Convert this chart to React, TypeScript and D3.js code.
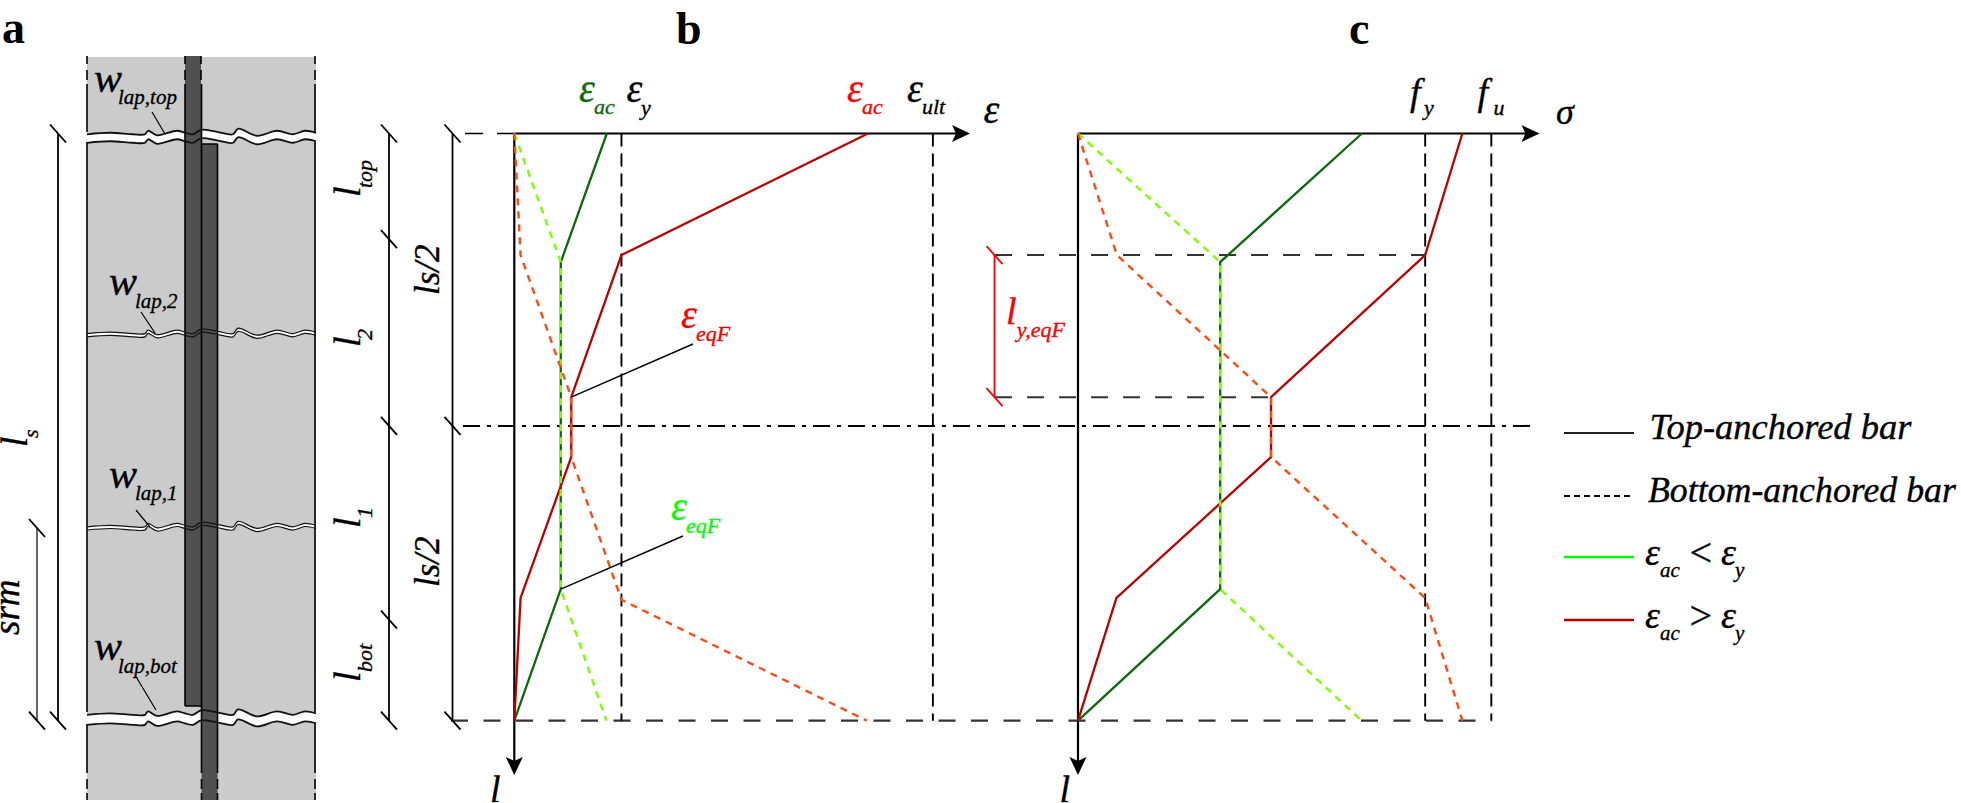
import * as d3 from "d3";

const W = 1961;
const H = 803;
const FONT = "'Liberation Serif', 'Times New Roman', serif";

const DARK_GREEN = "#0c6a0c";
const LIGHT_GREEN = "#7fff00";
const DARK_RED = "#bb0000";
const ORANGE = "#ff4a12";
const RED = "#ff0000";
const GREEN = "#00ff00";

// positions along the member, % of ls
const L_YIELD = 20.7;
const L_KINK = 21.9;
const L_EQF_TOP = 44.9;
const L_MID = 49.8;
const L_EQF_BOT = 55.1;
const L_KINK_BOT = 77.6;
const L_YIELD_BOT = 79.1;

// strain panel (b), % of eps_ult
const EPS_Y = 25.6;
const strainTop = [
  { x: 22.1, l: 0 },
  { x: 11.1, l: L_KINK },
  { x: 11.1, l: L_KINK_BOT },
  { x: 0, l: 100 },
];
const strainBottom = [
  { x: 0, l: 0 },
  { x: 11.1, l: L_KINK },
  { x: 11.1, l: L_KINK_BOT },
  { x: 22, l: 100 },
];
const strainTopRed = [
  { x: 84.5, l: 0 },
  { x: EPS_Y, l: L_YIELD },
  { x: 13.6, l: L_EQF_TOP },
  { x: 13.6, l: L_EQF_BOT },
  { x: 1.5, l: L_YIELD_BOT },
  { x: 0, l: 100 },
];
const strainBottomRed = [
  { x: 0, l: 0 },
  { x: 1.5, l: L_YIELD },
  { x: 13.6, l: L_EQF_TOP },
  { x: 13.6, l: L_EQF_BOT },
  { x: EPS_Y, l: L_YIELD_BOT + 0.3 },
  { x: 84.2, l: 100 },
];

// stress panel (c), % of fu
const F_Y = 84;
const stressTop = [
  { x: 68.7, l: 0 },
  { x: 34.4, l: L_KINK },
  { x: 34.4, l: L_KINK_BOT },
  { x: 0, l: 100 },
];
const stressBottom = [
  { x: 0, l: 0 },
  { x: 34.4, l: L_KINK },
  { x: 34.4, l: L_KINK_BOT },
  { x: 68.6, l: 100 },
];
const stressTopRed = [
  { x: 93, l: 0 },
  { x: F_Y, l: L_YIELD },
  { x: 46.7, l: L_EQF_TOP },
  { x: 46.7, l: L_EQF_BOT },
  { x: 9.3, l: L_YIELD_BOT },
  { x: 0, l: 100 },
];
const stressBottomRed = [
  { x: 0, l: 0 },
  { x: 9.4, l: L_YIELD },
  { x: 46.7, l: L_EQF_TOP },
  { x: 46.7, l: L_EQF_BOT },
  { x: F_Y, l: L_YIELD_BOT },
  { x: 93, l: 100 },
];

// crack outline of panel a: position across the tie and wobble
const crackX = [87, 110, 133, 145, 148, 157, 177, 185, 193, 201, 217, 233, 238, 257, 277, 293, 305, 316];
const crackWobble = [1.5, 0, 1.5, 1.5, -2, 2.5, -2, 0, 1.5, -3, -1, 1.5, -4, 3, -2, 1.5, -2, 0];

const cracks = [
  { l: 0.6, gap: 8.5, w: 1.8 },
  { l: 34.1, gap: 3.2, w: 1.2 },
  { l: 67, gap: 3.2, w: 1.2 },
  { l: 99.6, gap: 10, w: 1.8 },
];

const lScale = d3.scaleLinear().domain([0, 100]).range([133.5, 720.7]);
const strainX = d3.scaleLinear().domain([0, 100]).range([514.3, 932.9]);
const stressX = d3.scaleLinear().domain([0, 100]).range([1078, 1491.3]);
const crackLine = d3.line<number>().curve(d3.curveCatmullRom);

const pathFor = (scale: d3.ScaleLinear<number, number>, pts: { x: number; l: number }[]) =>
  d3
    .line<{ x: number; l: number }>()
    .x((d) => scale(d.x))
    .y((d) => lScale(d.l))(pts) as string;

const Tick = ({ x, y, stroke = "#000", w = 1.8 }: any) => (
  <line x1={x - 8} y1={y - 9} x2={x + 8} y2={y + 9} stroke={stroke} strokeWidth={w} />
);

const Seg = ({ x1, y1, x2, y2, stroke = "#000", w = 1.5, dash }: any) => (
  <line x1={x1} y1={y1} x2={x2} y2={y2} stroke={stroke} strokeWidth={w} strokeDasharray={dash} />
);

// notched arrow head pointing right (dir 0) or down (dir 90)
const Arrow = ({ x, y, dir }: any) => (
  <path d="M0,0 L-18,-8.5 L-14,0 L-18,8.5 Z" transform={`translate(${x},${y}) rotate(${dir})`} fill="#000" />
);

const Lab = ({ x, y, size = 36, fill = "#000", rot, bold, children }: any) => (
  <text
    x={x}
    y={y}
    fontFamily={FONT}
    fontSize={size}
    fontStyle={bold ? "normal" : "italic"}
    fontWeight={bold ? "bold" : "normal"}
    fill={fill}
    stroke={bold ? "none" : fill}
    strokeWidth={0.35}
    transform={rot ? `rotate(-90 ${x} ${y})` : undefined}
  >
    {children}
  </text>
);

const Sub = ({ x, y, sx, sy, main, sub, fill = "#000", size = 40, subSize = 22 }: any) => (
  <g>
    <Lab x={x} y={y} fill={fill} size={size}>{main}</Lab>
    <Lab x={sx} y={sy} fill={fill} size={subSize}>{sub}</Lab>
  </g>
);

const RotSub = ({ y, sy, sub }: any) => (
  <g>
    <Lab x={360} y={y} size={38} rot>l</Lab>
    <Lab x={372} y={sy} size={22} rot>{sub}</Lab>
  </g>
);

const PanelA = () => (
  <g>
    <rect x={87} y={57} width={229} height={743} fill="#cbcbcb" />
    {cracks.map((c, i) => {
      const y = lScale(c.l);
      const upper = crackX.map((x, k) => [x, y - c.gap / 2 + crackWobble[k]] as [number, number]);
      const lower = crackX.map((x, k) => [x, y + c.gap / 2 + crackWobble[k]] as [number, number]);
      return (
        <path
          key={i}
          d={`${crackLine(upper as any)}L${crackLine([...lower].reverse() as any)?.slice(1)}Z`}
          fill="#fff"
        />
      );
    })}
    <rect x={185} y={56} width={16} height={650} fill="#505050" />
    <rect x={201.5} y={144} width={16} height={656} fill="#505050" />
    <path d="M185,706H201.5M201.5,144H217.5" stroke="#000" strokeWidth={1.5} fill="none" />
    {[87, 185, 201, 315].map((x) => (
      <Seg key={x} x1={x} x2={x} y1={56} y2={84} w={1.6} dash="8 6 10 4" />
    ))}
    <Seg x1={87} x2={87} y1={84} y2={132} w={1.6} />
    <Seg x1={315} x2={315} y1={84} y2={132} w={1.6} />
    <Seg x1={185} x2={185} y1={84} y2={706} w={1.6} />
    <Seg x1={201.5} x2={201.5} y1={84} y2={765} w={1.6} />
    <Seg x1={217.5} x2={217.5} y1={144} y2={765} w={1.6} />
    <Seg x1={87} x2={87} y1={142} y2={712} w={1.6} />
    <Seg x1={315} x2={315} y1={142} y2={712} w={1.6} />
    <Seg x1={87} x2={87} y1={724} y2={765} w={1.6} />
    <Seg x1={315} x2={315} y1={724} y2={765} w={1.6} />
    {[87, 201.5, 217.5, 315].map((x) => (
      <Seg key={x} x1={x} x2={x} y1={765} y2={800} w={1.6} dash="8 6 10 4" />
    ))}
    {cracks.map((c, i) => {
      const y = lScale(c.l);
      return [-1, 1].map((s) => (
        <path
          key={`${i}${s}`}
          d={crackLine(crackX.map((x, k) => [x, y + (s * c.gap) / 2 + crackWobble[k]]) as any) as string}
          fill="none"
          stroke="#111"
          strokeWidth={c.w}
        />
      ));
    })}

    <Seg x1={152} y1={112} x2={165} y2={134} w={1.2} />
    <Seg x1={141} y1={312} x2={155} y2={333} w={1.2} />
    <Seg x1={136} y1={510} x2={150} y2={527} w={1.2} />
    <Seg x1={135} y1={675} x2={156} y2={710} w={1.2} />
    <Sub x={94} y={92} sx={118} sy={104} main="w" sub="lap,top" size={42} subSize={21} />
    <Sub x={109} y={295} sx={135} sy={308} main="w" sub="lap,2" size={42} subSize={21} />
    <Sub x={109} y={488} sx={135} sy={500} main="w" sub="lap,1" size={42} subSize={21} />
    <Sub x={94} y={660} sx={118} sy={673} main="w" sub="lap,bot" size={42} subSize={21} />

    {/* dimension lines */}
    <Seg x1={58} x2={58} y1={lScale(0)} y2={lScale(100)} w={1.8} />
    <Tick x={58} y={lScale(0)} />
    <Tick x={58} y={lScale(100)} />
    <Seg x1={37} x2={37} y1={528} y2={lScale(100)} w={1.2} />
    <Tick x={37} y={528} />
    <Tick x={37} y={lScale(100)} />
    <Seg x1={389} x2={389} y1={lScale(0)} y2={lScale(100)} w={1.8} />
    {[0, 18, L_MID, 82.8, 100].map((l) => (
      <Tick key={l} x={389} y={lScale(l)} />
    ))}
    <Lab x={27} y={447} size={37} rot>l</Lab>
    <Lab x={38} y={438} size={22} rot>s</Lab>
    <Lab x={19} y={635} size={37} rot>srm</Lab>
    <RotSub y={197} sy={188} sub="top" />
    <RotSub y={347} sy={340} sub="2" />
    <RotSub y={528} sy={518} sub="1" />
    <RotSub y={682} sy={672} sub="bot" />
    <Lab x={439} y={295} size={35} rot>ls/2</Lab>
    <Lab x={439} y={587} size={35} rot>ls/2</Lab>
  </g>
);

const Series = ({ scale, top, bottom, topRed, bottomRed }: any) => (
  <g fill="none">
    <path d={pathFor(scale, top)} stroke={DARK_GREEN} strokeWidth={2.3} />
    <path d={pathFor(scale, topRed)} stroke={DARK_RED} strokeWidth={2.3} />
    <path d={pathFor(scale, bottom)} stroke={LIGHT_GREEN} strokeWidth={2.4} strokeDasharray="7 6" />
    <path d={pathFor(scale, bottomRed)} stroke={ORANGE} strokeWidth={2.4} strokeDasharray="7 6" />
  </g>
);

const LONG = "13 7";
const WIDE = "17 15.5";

const PanelB = () => (
  <g>
    <Seg x1={strainX(EPS_Y)} x2={strainX(EPS_Y)} y1={lScale(0)} y2={lScale(100)} dash={LONG} w={1.9} />
    <Seg x1={strainX(100)} x2={strainX(100)} y1={lScale(0)} y2={lScale(100)} dash={LONG} w={1.9} />
    <Seg x1={465} x2={strainX(0)} y1={lScale(0)} y2={lScale(0)} dash="18 14" />
    <Seg x1={strainX(0)} x2={960} y1={lScale(0)} y2={lScale(0)} w={2.2} />
    <Arrow x={970} y={lScale(0)} dir={0} />
    <Seg x1={strainX(0)} x2={strainX(0)} y1={lScale(0)} y2={765} w={2.2} />
    <Arrow x={strainX(0)} y={775} dir={90} />
    <Seg x1={452.5} x2={452.5} y1={lScale(0)} y2={lScale(100)} w={1.8} />
    {[0, L_MID, 100].map((l) => (
      <Tick key={l} x={452.5} y={lScale(l)} />
    ))}
    <Series scale={strainX} top={strainTop} bottom={strainBottom} topRed={strainTopRed} bottomRed={strainBottomRed} />
    <Seg x1={strainX(13.6)} y1={lScale(L_EQF_TOP)} x2={693} y2={344} w={1.4} />
    <Seg x1={strainX(11.1)} y1={lScale(L_KINK_BOT)} x2={683} y2={536} w={1.4} />

    <Sub x={579} y={102} sx={594} sy={114} main="ε" sub="ac" fill={DARK_GREEN} />
    <Sub x={626.5} y={102} sx={641} sy={115} main="ε" sub="y" />
    <Sub x={847} y={102} sx={862} sy={114} main="ε" sub="ac" fill={RED} />
    <Sub x={907} y={102} sx={922} sy={114} main="ε" sub="ult" />
    <Lab x={983.5} y={123} size={40}>ε</Lab>
    <Sub x={681} y={328} sx={696} sy={341} main="ε" sub="eqF" fill={RED} />
    <Sub x={671} y={520} sx={686} sy={533} main="ε" sub="eqF" fill={GREEN} />
    <Lab x={490} y={802} size={38}>l</Lab>
    <Lab x={676} y={44} size={46} bold>b</Lab>
  </g>
);

const PanelC = () => (
  <g>
    <Seg x1={stressX(F_Y)} x2={stressX(F_Y)} y1={lScale(0)} y2={lScale(100)} dash={LONG} w={1.9} />
    <Seg x1={stressX(100)} x2={stressX(100)} y1={lScale(0)} y2={lScale(100)} dash={LONG} w={1.9} />
    <Seg x1={stressX(0)} x2={1530} y1={lScale(0)} y2={lScale(0)} w={2.2} />
    <Arrow x={1539.5} y={lScale(0)} dir={0} />
    <Seg x1={stressX(0)} x2={stressX(0)} y1={lScale(0)} y2={765} w={2.2} />
    <Arrow x={stressX(0)} y={775} dir={90} />
    <Seg x1={995} x2={stressX(F_Y)} y1={lScale(L_YIELD)} y2={lScale(L_YIELD)} dash="17 15" stroke="#333" w={2} />
    <Seg x1={995} x2={stressX(46.7)} y1={lScale(L_EQF_TOP)} y2={lScale(L_EQF_TOP)} dash="17 15" stroke="#333" w={2} />
    <Seg x1={994.5} x2={994.5} y1={lScale(L_YIELD)} y2={lScale(L_EQF_TOP)} stroke={RED} w={1.8} />
    <Tick x={994.5} y={lScale(L_YIELD)} stroke={RED} />
    <Tick x={994.5} y={lScale(L_EQF_TOP)} stroke={RED} />
    <Series scale={stressX} top={stressTop} bottom={stressBottom} topRed={stressTopRed} bottomRed={stressBottomRed} />

    <Sub x={1410} y={105} sx={1424} sy={115} main="f" sub="y" size={38} />
    <Sub x={1477.5} y={105} sx={1493.5} sy={115} main="f" sub="u" size={38} />
    <Lab x={1556} y={124}>σ</Lab>
    <Sub x={1006} y={324} sx={1016.7} sy={337} main="l" sub="y,eqF" fill={RED} size={38} />
    <Lab x={1059.5} y={802} size={38}>l</Lab>
    <Lab x={1349} y={44} size={46} bold>c</Lab>
  </g>
);

const Legend = () => (
  <g>
    <Seg x1={1564} x2={1634} y1={433} y2={433} w={2.2} stroke="#222" />
    <Lab x={1649.5} y={439} size={36.5}>Top-anchored bar</Lab>
    <Seg x1={1564} x2={1631} y1={496} y2={496} w={2} dash="6 4" />
    <Lab x={1648} y={502} size={35.8}>Bottom-anchored bar</Lab>
    <Seg x1={1564} x2={1634} y1={557} y2={557} w={2.4} stroke={GREEN} />
    <Sub x={1645} y={565} sx={1660} sy={577} main="ε" sub="ac" size={38} subSize={21} />
    <Lab x={1687} y={566} size={40}>{"<"}</Lab>
    <Sub x={1721} y={565} sx={1735} sy={577} main="ε" sub="y" size={38} subSize={21} />
    <Seg x1={1564} x2={1634} y1={620} y2={620} w={2.4} stroke={DARK_RED} />
    <Sub x={1645} y={628} sx={1660} sy={640} main="ε" sub="ac" size={38} subSize={21} />
    <Lab x={1687} y={629} size={40}>{">"}</Lab>
    <Sub x={1721} y={628} sx={1735} sy={640} main="ε" sub="y" size={38} subSize={21} />
  </g>
);

export default function App() {
  return (
    <svg
      width={W}
      height={H}
      viewBox={`0 0 ${W} ${H}`}
      style={{ position: "absolute", left: 0, top: 0, background: "#fff" }}
    >
      <Lab x={2} y={43} size={46} bold>a</Lab>
      <PanelA />
      {/* shared reference lines across b and c */}
      <Seg x1={451} x2={stressX(100)} y1={lScale(100)} y2={lScale(100)} dash={WIDE} stroke="#333" w={2.2} />
      <Seg x1={463} x2={1533} y1={lScale(L_MID)} y2={lScale(L_MID)} dash="17 7 4 7" w={2} />
      <PanelB />
      <PanelC />
      <Legend />
    </svg>
  );
}
